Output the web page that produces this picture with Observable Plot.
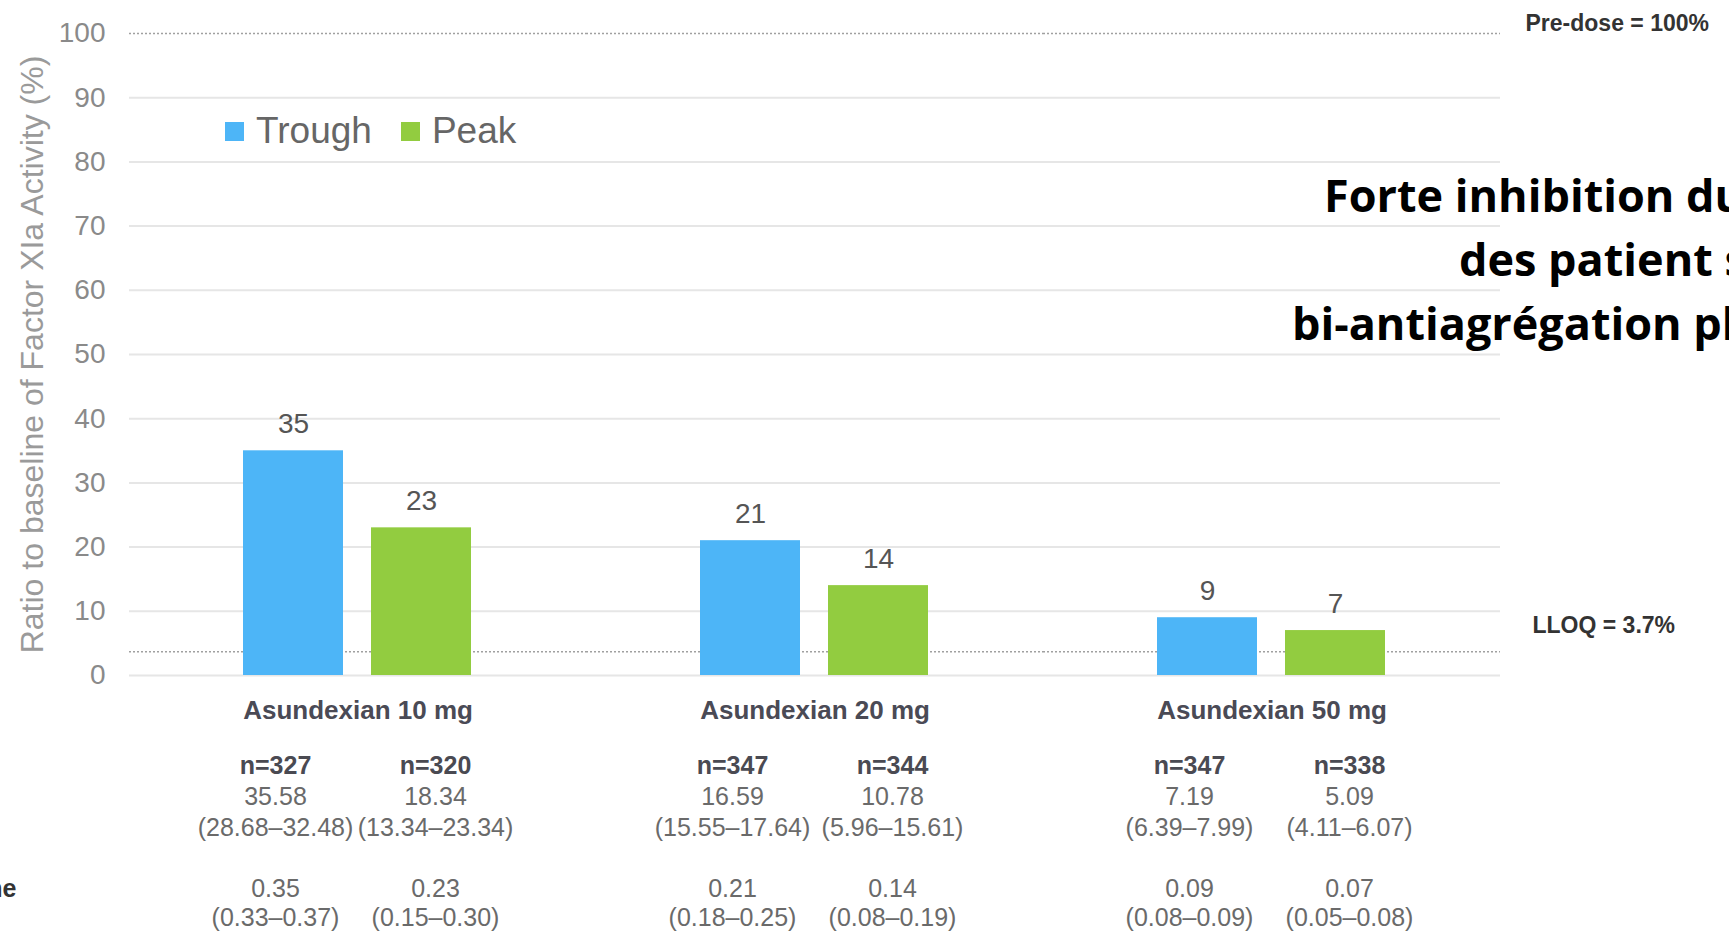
<!DOCTYPE html>
<html><head><meta charset="utf-8">
<script src="https://cdn.jsdelivr.net/npm/d3@7"></script>
<script src="https://cdn.jsdelivr.net/npm/@observablehq/plot@0.6"></script>
<style>
html,body{margin:0;padding:0;background:#fff;overflow:hidden;}
#wrap{position:relative;width:1729px;height:944px;overflow:hidden;font-family:"Liberation Sans",Arial,sans-serif;}
.ov{position:absolute;white-space:nowrap;}
.title{font-family:"Open Sans","Noto Sans",sans-serif;font-weight:700;font-size:45px;color:#000;line-height:1;}
.leg{position:absolute;display:flex;align-items:center;font-size:37px;color:#666;}
.leg span.sw{display:inline-block;width:19px;height:19px;margin-right:12px;}
</style></head><body><div id="wrap"></div>
<script>
const groups = ["Asundexian 10 mg", "Asundexian 20 mg", "Asundexian 50 mg"];
const series = ["Trough", "Peak"];
const troughValues = [35, 21, 9];
const peakValues = [23, 14, 7];
const troughN = ["n=327", "n=347", "n=347"];
const peakN = ["n=320", "n=344", "n=338"];
const troughMean = ["35.58", "16.59", "7.19"];
const peakMean = ["18.34", "10.78", "5.09"];
const troughCI = ["(28.68–32.48)", "(15.55–17.64)", "(6.39–7.99)"];
const peakCI = ["(13.34–23.34)", "(5.96–15.61)", "(4.11–6.07)"];
const troughRatio = ["0.35", "0.21", "0.09"];
const peakRatio = ["0.23", "0.14", "0.07"];
const troughRatioCI = ["(0.33–0.37)", "(0.18–0.25)", "(0.08–0.09)"];
const peakRatioCI = ["(0.15–0.30)", "(0.08–0.19)", "(0.05–0.08)"];
const yTicks = [0, 10, 20, 30, 40, 50, 60, 70, 80, 90, 100];
const gridValues = [0, 10, 20, 30, 40, 50, 60, 70, 80, 90];
const refValues = [100, 3.7];
const refLabels = ["Pre-dose = 100%", "LLOQ = 3.7%"];
const yTitle = "Ratio to baseline of Factor XIa Activity (%)";
const titleLines = ["Forte inhibition du", "des patient s", "bi-antiagrégation pla"];
const colors = ["#4db5f7", "#92cc40"];

const rows = groups.flatMap((g, i) => [
  {group: g, series: "Trough", value: troughValues[i], n: troughN[i], mean: troughMean[i], ci: troughCI[i], ratio: troughRatio[i], ratioCI: troughRatioCI[i]},
  {group: g, series: "Peak", value: peakValues[i], n: peakN[i], mean: peakMean[i], ci: peakCI[i], ratio: peakRatio[i], ratioCI: peakRatioCI[i]}
]);
const refs = refValues.map((v, i) => ({value: v, label: refLabels[i]}));

const tableRows = [
  {key: "n", dy: 90, weight: "bold", fill: "#4a4a52"},
  {key: "mean", dy: 121, weight: "normal", fill: "#6a6a6a"},
  {key: "ci", dy: 152, weight: "normal", fill: "#6a6a6a"},
  {key: "ratio", dy: 213, weight: "normal", fill: "#6a6a6a"},
  {key: "ratioCI", dy: 242, weight: "normal", fill: "#6a6a6a"}
];
const seriesDx = {Trough: -18, Peak: 14};
const tableMarks = tableRows.flatMap(r => series.map(s =>
  Plot.text(rows.filter(d => d.series === s), {
    fx: "group", x: "series", frameAnchor: "bottom", dy: r.dy, dx: seriesDx[s],
    text: r.key, fontSize: 25, fontWeight: r.weight, fill: r.fill, lineAnchor: "middle"
  })
));

const plot = Plot.plot({
  width: 1729, height: 944,
  marginTop: 33, marginBottom: 269, marginLeft: 129, marginRight: 229,
  style: {fontFamily: "'Liberation Sans', Arial, sans-serif", background: "transparent", overflow: "visible"},
  fx: {domain: groups, padding: 0, axis: null},
  x: {domain: series, paddingInner: 0.217, paddingOuter: 0.88, axis: null},
  y: {domain: [0, 100]},
  color: {domain: series, range: colors},
  marks: [
    Plot.ruleY(gridValues, {stroke: "#e6e6e6", strokeWidth: 2}),
    Plot.ruleY(refValues, {stroke: "#a0a0a0", strokeWidth: 1.5, strokeDasharray: "2,2"}),
    Plot.barY(rows, {fx: "group", x: "series", y: "value", fill: "series"}),
    Plot.text(rows, {fx: "group", x: "series", y: "value", text: "value", dy: -27, fontSize: 28, fill: "#555"}),
    Plot.text(groups, {fx: d => d, frameAnchor: "bottom", dy: 43, text: d => d, fontSize: 26, fontWeight: "bold", fill: "#4a4a55"}),
    ...tableMarks,
    Plot.text(["Ratio to baseline"], {fx: () => groups[0], frameAnchor: "bottom-left", dx: -113, dy: 221, text: d => d, textAnchor: "end", fontSize: 25, fontWeight: "bold", fill: "#333"}),
    Plot.text(refs.slice(0, 1), {fx: () => groups[2], y: "value", text: "label", frameAnchor: "right", textAnchor: "start", dx: 25, dy: -10, fontSize: 23, fontWeight: "bold", fill: "#333"}),
    Plot.text(refs.slice(1), {fx: () => groups[2], y: "value", text: "label", frameAnchor: "right", textAnchor: "start", dx: 32, dy: -26, fontSize: 23, fontWeight: "bold", fill: "#333"}),
    Plot.axisY(yTicks, {tickSize: 0, tickPadding: 24, fontSize: 28, color: "#8a8a8a", label: null}),
    Plot.axisY({ticks: [], tickSize: 0, label: yTitle, labelAnchor: "center", labelOffset: 109, labelArrow: "none", fontSize: 32, color: "#9a9a9a"})
  ]
});

const wrap = document.getElementById("wrap");
wrap.appendChild(plot);
plot.style.position = "absolute"; plot.style.left = "0"; plot.style.top = "0"; plot.style.maxWidth = "none";

// legend
const leg = document.createElement("div");
leg.className = "leg";
leg.style.left = "225px"; leg.style.top = "110px";
leg.innerHTML = series.map((s, i) => `<span class="sw" style="background:${colors[i]}"></span><span style="margin-right:${i === 0 ? 29 : 0}px">${s}</span>`).join("");
wrap.appendChild(leg);

// title overlay
const starts = [1324, 1459, 1292];
titleLines.forEach((l, i) => {
  const d = document.createElement("div");
  d.className = "ov title";
  d.style.left = starts[i] + "px";
  d.style.top = (196 + i * 64 - 24) + "px";
  d.textContent = l;
  wrap.appendChild(d);
});
</script></body></html>
